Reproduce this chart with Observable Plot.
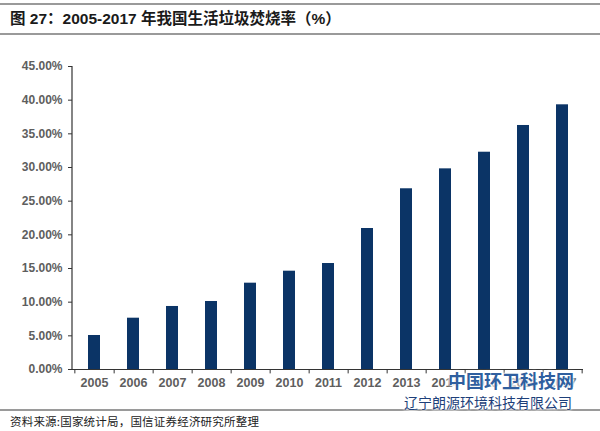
<!DOCTYPE html>
<html>
<head>
<meta charset="utf-8">
<script src="https://cdn.jsdelivr.net/npm/d3@7"></script>
<script src="https://cdn.jsdelivr.net/npm/@observablehq/plot@0.6"></script>
<style>
  html, body { margin: 0; padding: 0; background: #fff; }
  #page { position: relative; width: 600px; height: 431px; overflow: hidden;
    font-family: "Liberation Sans", Arial, "Noto Sans CJK SC", sans-serif; }
  #title { position: absolute; top: 3px; left: 0; width: 590px; height: 28px;
    border-top: 2px solid #9a9a9a; border-bottom: 2px solid #9a9a9a;
    line-height: 28px; font-size: 15.5px; font-weight: bold; color: #1a1a1a; padding-left: 10px; box-sizing: content-box; }
  #chart { position: absolute; top: 40px; left: 0; }
  #footline { position: absolute; top: 409px; left: 0; width: 600px; height: 0; border-top: 2px solid #9a9a9a; }
  #source { position: absolute; top: 413px; left: 10px; font-size: 11.5px; line-height: 16px; color: #222;
    font-family: "Noto Sans CJK SC", sans-serif; letter-spacing: 0.2px; }
  .wm { position: absolute; white-space: nowrap; font-family: "Noto Sans CJK SC", sans-serif; font-weight: bold; }
  #wm1 { left: 448px; top: 367px; font-size: 18px; color: #2f5f9f;
    text-shadow: 0 0 3px #fff, 0 0 3px #fff, 0 0 4px #fff; }
  #wm2 { left: 404px; top: 392px; font-size: 14px; color: #1d3f7a; font-weight: normal;
    text-shadow: 0 0 2px #fff, 0 0 3px #fff, 0 0 4px #fff; }
</style>
</head>
<body>
<div id="page">
  <div id="title">图 27：2005-2017 年我国生活垃圾焚烧率（%）</div>
  <div id="chart"></div>
  <div id="footline"></div>
  <div id="source">资料来源:国家统计局，国信证券经济研究所整理</div>
  <div class="wm" id="wm1">中国环卫科技网</div>
  <div class="wm" id="wm2">辽宁朗源环境科技有限公司</div>
</div>
<script>
const years = ["2005","2006","2007","2008","2009","2010","2011","2012","2013","2014","2015","2016","2017"];
const rates = [5.05, 7.62, 9.36, 10.1, 12.82, 14.6, 15.74, 20.94, 26.84, 29.8, 32.27, 36.24, 39.31];
const yTicks = [0, 5, 10, 15, 20, 25, 30, 35, 40, 45];

const data = years.map((y, i) => ({year: y, rate: rates[i]}));

const W = 600, H = 360, mL = 72, mR = 17, mT = 26, mB = 31;
const nBands = years.length;
const step = (W - mL - mR) / nBands; // paddingInner 0.7 + 2*paddingOuter 0.35 = 0.7

const chart = Plot.plot({
  width: W,
  height: H,
  marginLeft: mL,
  marginRight: mR,
  marginTop: mT,
  marginBottom: mB,
  style: {fontFamily: "'Liberation Sans', Arial, sans-serif", background: "#fff"},
  x: {domain: years, paddingInner: 0.7, paddingOuter: 0.35},
  y: {domain: [0, 45]},
  marks: [
    Plot.barY(data, {x: "year", y: "rate", fill: "#0b3466"}),
    Plot.ruleY([0], {stroke: "#333", strokeWidth: 1.2}),
    Plot.ruleX(years, {x: d => d, y1: 0, y2: -0.65, dx: step / 2, stroke: "#333"}),
    Plot.ruleX([years[0]], {x: d => d, y1: 0, y2: -0.65, dx: -step / 2, stroke: "#333"}),
    Plot.axisX({tickSize: 0, tickPadding: 9, fontSize: 12.5, fontWeight: "bold", fill: "#5e5e5e", label: null}),
    Plot.axisY({ticks: yTicks, tickSize: 4, tickPadding: 6, fontSize: 12, fontWeight: "bold", fill: "#5e5e5e", stroke: "#333",
      tickFormat: d => d.toFixed(2) + "%", label: null})
  ]
});

// y-axis line drawn through Plot's own y scale
const ys = chart.scale("y");
const yPix = ys.range;
d3.select(chart).append("line")
  .attr("x1", mL).attr("x2", mL)
  .attr("y1", yPix[0]).attr("y2", yPix[1])
  .attr("stroke", "#333").attr("stroke-width", 1.2);

document.getElementById("chart").appendChild(chart);
</script>
</body>
</html>
